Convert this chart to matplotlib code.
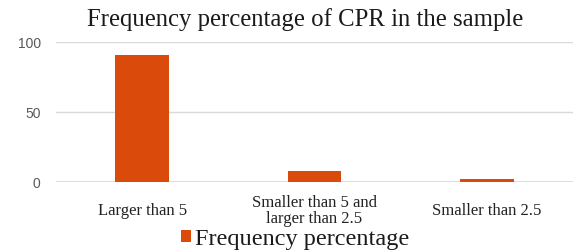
import matplotlib
matplotlib.use('Agg')
import matplotlib.pyplot as plt
from matplotlib.patches import Patch

# data
categories = ['Larger than 5', 'Smaller than 5 and\nlarger than 2.5', 'Smaller than 2.5']
values = [90.5, 7.9, 2.0]
series_name = 'Frequency percentage'
title = 'Frequency percentage of CPR in the sample'
yticks = [0, 50, 100]

bar_color = '#DA4A0B'
grid_color = '#D9D9D9'

fig = plt.figure(figsize=(5.73, 2.52), dpi=100)
ax = fig.add_axes([56/573, 1-182/252, 517/573, 140/252])

x = list(range(len(categories)))
ax.bar(x, values, width=0.31, color=bar_color, zorder=3)
ax.set_xlim(-0.5, len(categories)-0.5)
ax.set_ylim(0, 100)

ax.set_yticks(yticks)
ax.set_yticklabels([str(t) for t in yticks], fontfamily='Liberation Sans',
                   fontsize=10, color='#595959')
ax.tick_params(axis='y', length=0, pad=11)
ax.set_xticks(x)
ax.set_xticklabels(categories, fontfamily='Liberation Serif', fontsize=12,
                   color='#222222', linespacing=0.95, va='center')
ax.tick_params(axis='x', length=0, pad=21)

for s in ax.spines.values():
    s.set_visible(False)
ax.grid(axis='y', color=grid_color, linewidth=1.0, zorder=0)
ax.axhline(0, color=grid_color, linewidth=1.2, zorder=2)

fig.text(305/573, 1-20/252, title, ha='center', va='center',
         fontfamily='Liberation Serif', fontsize=17.8, color='#1a1a1a')

handle = Patch(facecolor=bar_color, edgecolor='none', label=series_name)
fig.legend(handles=[handle], loc='center', bbox_to_anchor=(295/573, 1-239/252),
           frameon=False, prop={'family': 'Liberation Serif', 'size': 17.5},
           handlelength=0.4, handleheight=0.4, handletextpad=0.15,
           labelcolor='#1a1a1a', borderpad=0)

plt.savefig('out.png', dpi=100)
